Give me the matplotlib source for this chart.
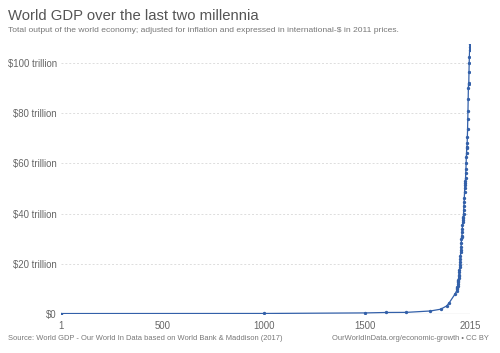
import matplotlib
matplotlib.use("Agg")
import matplotlib.pyplot as plt
from matplotlib.ticker import FixedLocator

years = [1, 1000, 1500, 1600, 1700, 1820, 1870, 1900, 1913, 1940,
         1950, 1951, 1952, 1953, 1954, 1955, 1956, 1957, 1958, 1959,
         1960, 1961, 1962, 1963, 1964, 1965, 1966, 1967, 1968, 1969,
         1970, 1971, 1972, 1973, 1974, 1975, 1976, 1977, 1978, 1979,
         1980, 1981, 1982, 1983, 1984, 1985, 1986, 1987, 1988, 1989,
         1990, 1991, 1992, 1993, 1994, 1995, 1996, 1997, 1998, 1999,
         2000, 2001, 2002, 2003, 2004, 2005, 2006, 2007, 2008, 2009,
         2010, 2011, 2012, 2013, 2014, 2015]
gdp_trillion = [0.18, 0.21, 0.43, 0.60, 0.64, 1.2, 1.9, 3.2, 4.5, 7.8,
                9.3, 9.9, 10.3, 10.8, 11.2, 12.0, 12.6, 13.1, 13.5, 14.3,
                15.1, 15.7, 16.6, 17.5, 18.7, 19.7, 20.9, 21.8, 23.1, 24.5,
                25.6, 26.7, 28.2, 30.0, 30.6, 31.0, 32.6, 33.9, 35.3, 36.6,
                37.4, 38.2, 38.6, 39.7, 41.6, 43.1, 44.6, 46.3, 48.4, 50.1,
                51.4, 52.0, 53.0, 54.1, 56.0, 57.9, 60.2, 62.7, 64.3, 66.6,
                66.0, 68.0, 70.5, 73.5, 77.5, 81.0, 85.5, 90.0, 92.0, 91.5,
                96.5, 100.0, 102.5, 105.0, 106.5, 107.5]
x_ticks = [1, 500, 1000, 1500, 2015]
y_ticks = [0, 20, 40, 60, 80, 100]
y_tick_labels = ["$0", "$20 trillion", "$40 trillion", "$60 trillion",
                 "$80 trillion", "$100 trillion"]

plt.rcParams['font.family'] = ['Liberation Sans', 'DejaVu Sans']

fig = plt.figure(figsize=(5.0, 3.53), dpi=100)
ax = fig.add_axes([0.122, 0.1105, 0.818, 0.7645])

ax.plot(years, gdp_trillion, color="#3360a9", lw=0.9, marker="o",
        markersize=1.4, zorder=3)

ax.set_xlim(1, 2015)
ax.set_ylim(0, 107.5)
ax.xaxis.set_major_locator(FixedLocator(x_ticks))
ax.set_xticklabels([str(t) for t in x_ticks])
ax.yaxis.set_major_locator(FixedLocator(y_ticks))
ax.set_yticklabels(y_tick_labels)

for s in ax.spines.values():
    s.set_visible(False)
ax.tick_params(axis="both", length=0, labelsize=6.9, colors="#666666")
ax.tick_params(axis="x", pad=5)
ax.tick_params(axis="y", pad=3)

for v in y_ticks[1:]:
    ax.axhline(v, color="#dddddd", lw=0.7, ls=(0, (2, 2)), zorder=1)
ax.axhline(0, color="#dddddd", lw=1.0, zorder=1)

fig.text(0.016, 0.955, "World GDP over the last two millennia",
         fontsize=10.7, color="#555555", va="center", ha="left")
fig.text(0.016, 0.915,
         "Total output of the world economy; adjusted for inflation and expressed in international-$ in 2011 prices.",
         fontsize=6.1, color="#777777", va="center", ha="left")
fig.text(0.016, 0.042,
         "Source: World GDP - Our World In Data based on World Bank & Maddison (2017)",
         fontsize=5.4, color="#777777", va="center", ha="left")
fig.text(0.978, 0.042, "OurWorldInData.org/economic-growth \u2022 CC BY",
         fontsize=5.4, color="#777777", va="center", ha="right")

fig.savefig("out.png", dpi=100)
